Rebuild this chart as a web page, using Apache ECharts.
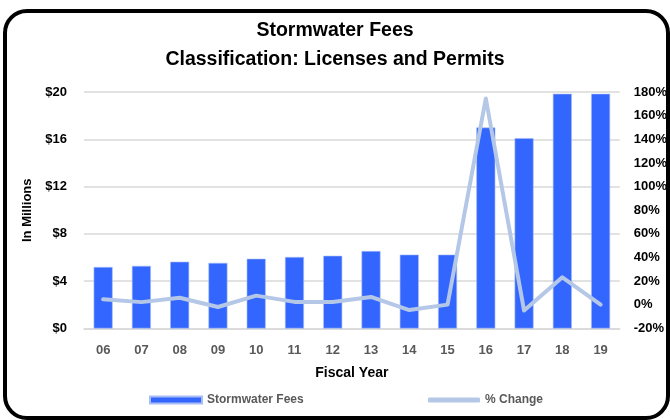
<!DOCTYPE html>
<html>
<head>
<meta charset="utf-8">
<script src="https://cdn.jsdelivr.net/npm/echarts@6/dist/echarts.min.js"></script>
<style>
  html, body { margin: 0; padding: 0; background: #fff; }
  #chart { width: 670px; height: 420px; }
</style>
</head>
<body>
<div id="chart"></div>
<script>
const years = ['06', '07', '08', '09', '10', '11', '12', '13', '14', '15', '16', '17', '18', '19'];
const stormwaterFees = [5.2, 5.3, 5.65, 5.55, 5.9, 6.05, 6.15, 6.55, 6.25, 6.25, 17.0, 16.1, 19.85, 19.85];
const pctChange = [4.7, 2.3, 6.0, -1.8, 7.8, 2.5, 2.5, 6.7, -4.4, 0.2, 174.5, -4.8, 23.3, 0.2];

const chart = echarts.init(document.getElementById('chart'));
const font = 'Liberation Sans, Arial, sans-serif';
const legendText = { color: '#595959', fontSize: 12, fontWeight: 'bold', fontFamily: font };

chart.setOption({
  animation: false,
  textStyle: { fontFamily: font },
  graphic: [
    {
      type: 'rect',
      shape: { x: 5, y: 11, width: 663, height: 407, r: 22 },
      style: { fill: 'none', stroke: '#000', lineWidth: 4 },
      z: 100
    }
  ],
  title: {
    text: 'Stormwater Fees\nClassification: Licenses and Permits',
    left: 'center',
    top: 11,
    textStyle: {
      fontFamily: font,
      fontSize: 19.5,
      fontWeight: 'bold',
      color: '#000',
      lineHeight: 29
    }
  },
  legend: [
    {
      data: [{ name: 'Stormwater Fees', icon: 'rect' }],
      left: 144,
      top: 389,
      itemWidth: 52,
      itemHeight: 7,
      itemGap: 6,
      textStyle: legendText
    },
    {
      data: [{ name: '% Change', icon: 'roundRect' }],
      left: 423,
      top: 389,
      itemWidth: 52,
      itemHeight: 5,
      itemGap: 6,
      itemStyle: { color: '#b4c7e7' },
      textStyle: legendText
    }
  ],
  grid: {
    left: 84,
    right: 49,
    top: 92,
    bottom: 91.5
  },
  xAxis: {
    type: 'category',
    data: years,
    name: 'Fiscal Year',
    nameLocation: 'middle',
    nameGap: 38,
    nameTextStyle: { color: '#000', fontSize: 14, fontWeight: 'bold', fontFamily: font },
    axisTick: { show: false },
    axisLine: { show: true, lineStyle: { color: '#d9d9d9', width: 1.5 } },
    axisLabel: { color: '#595959', fontSize: 13, fontWeight: 'bold', margin: 15 }
  },
  yAxis: [
    {
      type: 'value',
      min: 0,
      max: 20,
      interval: 4,
      name: 'In Millions',
      nameLocation: 'middle',
      nameRotate: 90,
      nameGap: 49,
      nameTextStyle: { color: '#000', fontSize: 13, fontWeight: 'bold', fontFamily: font },
      axisLine: { show: false },
      axisTick: { show: false },
      axisLabel: {
        color: '#000',
        fontSize: 13,
        fontWeight: 'bold',
        margin: 17,
        formatter: v => '$' + v
      },
      splitLine: { lineStyle: { color: '#d9d9d9', width: 1.5 } }
    },
    {
      type: 'value',
      min: -20,
      max: 180,
      interval: 20,
      position: 'right',
      axisLine: { show: false },
      axisTick: { show: false },
      splitLine: { show: false },
      axisLabel: {
        color: '#000',
        fontSize: 13,
        fontWeight: 'bold',
        margin: 14,
        formatter: v => v + '%'
      }
    }
  ],
  series: [
    {
      name: 'Stormwater Fees',
      type: 'bar',
      data: stormwaterFees,
      barWidth: 19,
      itemStyle: { color: '#3366ff', borderColor: '#a9bdf5', borderWidth: 0.6 }
    },
    {
      name: '% Change',
      type: 'line',
      yAxisIndex: 1,
      data: pctChange,
      symbol: 'none',
      lineStyle: { color: '#b4c7e7', width: 4, cap: 'round', join: 'round' },
      itemStyle: { color: '#b4c7e7' }
    }
  ]
});
</script>
</body>
</html>
